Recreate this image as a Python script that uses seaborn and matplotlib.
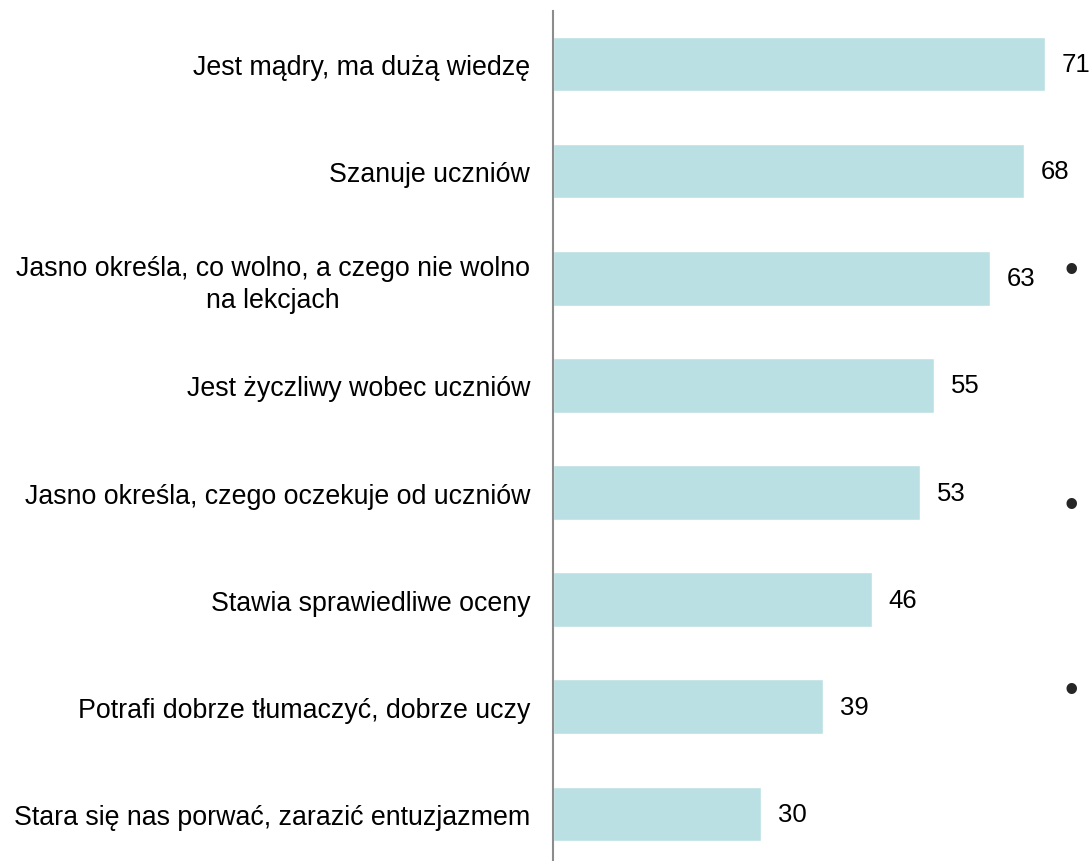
"""
Horizontal bar chart: cechy dobrego nauczyciela (%).
"""

import matplotlib.pyplot as plt
import pandas as pd
import seaborn as sns

labels = [
    "Jest mądry, ma dużą wiedzę",
    "Szanuje uczniów",
    "Jasno określa, co wolno, a czego nie wolno\nna lekcjach",
    "Jest życzliwy wobec uczniów",
    "Jasno określa, czego oczekuje od uczniów",
    "Stawia sprawiedliwe oceny",
    "Potrafi dobrze tłumaczyć, dobrze uczy",
    "Stara się nas porwać, zarazić entuzjazmem",
]
values = [71, 68, 63, 55, 53, 46, 39, 30]

df = pd.DataFrame({"label": labels, "value": values})

sns.set_style("white")
plt.rcParams["font.family"] = ["Liberation Sans", "DejaVu Sans"]

fig = plt.figure(figsize=(10.91, 8.62), dpi=100)
ax = fig.add_axes([553 / 1091, 0.0, 1 - 553 / 1091, 1 - 12 / 862])

sns.barplot(
    data=df,
    x="value",
    y="label",
    orient="h",
    color="#BBE0E3",
    saturation=1,
    width=0.51,
    ax=ax,
)
ax.bar_label(ax.containers[0], fmt="%d", padding=12, fontsize=18.5, color="#000000")

ax.set_xlim(0, 77.6)
ax.set_ylim(7.44, -0.495)
ax.set(xlabel="", ylabel="")
ax.set_xticks([])
for side in ["top", "right", "bottom"]:
    ax.spines[side].set_visible(False)
ax.spines["left"].set_color("#8c8c8c")
ax.spines["left"].set_linewidth(1.5)
ax.tick_params(axis="y", length=0, pad=16.5, labelsize=19.3, labelcolor="#000000")
for t in ax.get_yticklabels():
    t.set_multialignment("center")
    t.set_linespacing(1.3)

# stray bullet points from the source slide
for yy in [272, 507, 692]:
    fig.text(1071 / 1091, 1 - yy / 862, "•", fontsize=28, ha="center", va="center")

fig.savefig("out.png", dpi=100)
